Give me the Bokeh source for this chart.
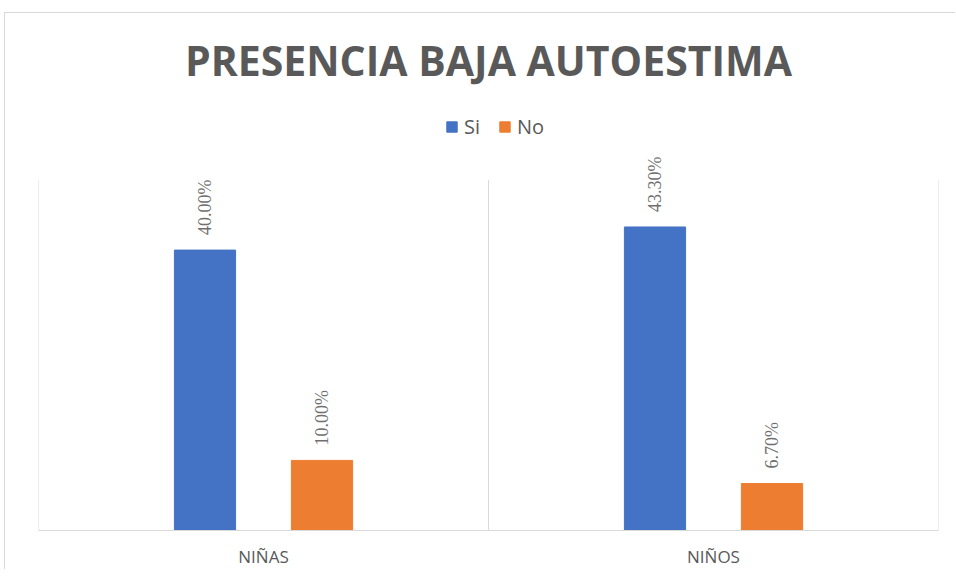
from math import pi
from bokeh.plotting import figure
from bokeh.models import (ColumnDataSource, FactorRange, Range1d, Legend, LegendItem,
                          LabelSet)
from bokeh.transform import dodge
from bokeh.embed import file_html
from bokeh.resources import INLINE

title_text = "PRESENCIA BAJA AUTOESTIMA"
categories = ["NIÑAS", "NIÑOS"]
series = ["Si", "No"]
si_values = [40.0, 43.3]
no_values = [10.0, 6.7]
axis_max = 50.0          # value axis maximum of the original chart
category_edges = [0, 1, 2]  # boundaries between categories (synthetic factor coords)

BLUE = "#4472C4"
ORANGE = "#ED7D31"
GRID = "#D9D9D9"
TXT = "#595959"

p = figure(x_range=FactorRange(factors=categories, range_padding=0),
           y_range=Range1d(0, 61.2), width=951, height=557,
           output_backend="svg", toolbar_location=None, title=title_text,
           min_border_left=33, min_border_right=18, min_border_bottom=39,
           min_border_top=88, margin=(12, 0, 0, 4))
p.styles = {"border-left": "1px solid #D9D9D9", "border-top": "1px solid #D9D9D9"}
p.title.align = "center"
p.title.text_font = "Open Sans"
p.title.text_font_size = "41px"
p.title.text_font_style = "bold"
p.title.text_color = TXT
p.title.standoff = 28
p.title.offset = -7

# vertical gridlines between categories, up to the axis maximum
p.segment(x0=category_edges, x1=category_edges, y0=[0] * 3, y1=[axis_max] * 3,
          line_color=GRID, line_width=1)

src_si = ColumnDataSource(dict(cat=categories, val=si_values,
                               lbl=[f"{v:.2f}%" for v in si_values]))
src_no = ColumnDataSource(dict(cat=categories, val=no_values,
                               lbl=[f"{v:.2f}%" for v in no_values]))

r_si = p.vbar(x=dodge("cat", -0.13, range=p.x_range), top="val", width=0.136,
              source=src_si, fill_color=BLUE, line_color=BLUE)
r_no = p.vbar(x=dodge("cat", 0.13, range=p.x_range), top="val", width=0.136,
              source=src_no, fill_color=ORANGE, line_color=ORANGE)

for src, off in ((src_si, -0.13), (src_no, 0.13)):
    p.add_layout(LabelSet(x=dodge("cat", off, range=p.x_range), y="val", text="lbl",
                          source=src, angle=pi / 2, text_align="left",
                          text_baseline="middle", y_offset=15,
                          text_font="Roboto", text_font_size="18px",
                          text_color="#6f6f6f"))

p.xgrid.visible = False
p.ygrid.visible = False
p.yaxis.visible = False
p.outline_line_color = None
p.xaxis.axis_line_color = GRID
p.xaxis.major_tick_line_color = None
p.xaxis.minor_tick_line_color = None
p.xaxis.major_label_text_font = "Open Sans"
p.xaxis.major_label_text_font_size = "17px"
p.xaxis.major_label_text_color = TXT
p.xaxis.major_label_standoff = 8

legend = Legend(items=[LegendItem(label=series[0], renderers=[r_si]),
                       LegendItem(label=series[1], renderers=[r_no])],
                orientation="horizontal", location=(407, 390),
                border_line_color=None, background_fill_alpha=0,
                glyph_width=13, glyph_height=13, label_standoff=6, spacing=14,
                label_text_font="Open Sans", label_text_font_size="20px",
                label_text_color=TXT, padding=0, margin=0)
p.add_layout(legend, "center")

open("out.html", "w").write(file_html(p, INLINE))
